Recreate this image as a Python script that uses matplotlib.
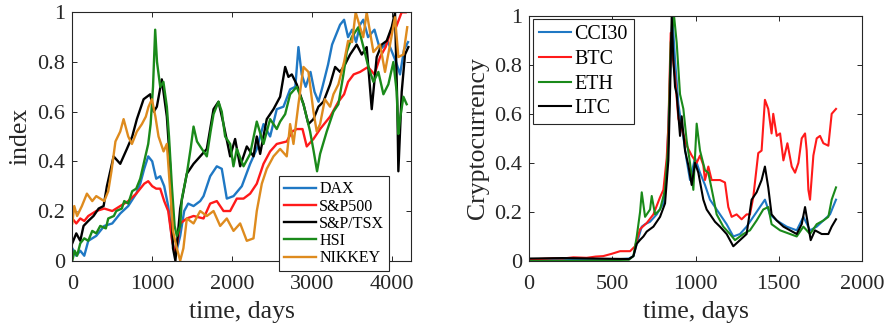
import matplotlib
matplotlib.use("Agg")
import matplotlib.pyplot as plt

plt.rcParams['font.family'] = ['Liberation Serif', 'DejaVu Serif']
plt.rcParams['mathtext.fontset'] = 'stix'

# ---------------- left panel: stock indices ----------------
dax_days = [0, 50, 100, 150, 200, 300, 400, 500, 600, 700, 800, 850, 900, 950, 1000, 1050, 1100,
            1150, 1200, 1250, 1290, 1350, 1400, 1450, 1517, 1600, 1642, 1725, 1808, 1870, 1933,
            2017, 2121, 2225, 2308, 2392, 2475, 2558, 2642, 2725, 2790, 2829, 2870, 2920, 2980,
            3030, 3080, 3130, 3200, 3250, 3300, 3350, 3400, 3450, 3500, 3550, 3600, 3640, 3700,
            3780, 3850, 3950, 4050, 4100, 4150, 4200]
dax_vals = [0.05, 0.02, 0.04, 0.02, 0.08, 0.10, 0.14, 0.15, 0.19, 0.22, 0.27, 0.31, 0.37, 0.42, 0.40,
            0.33, 0.34, 0.30, 0.22, 0.08, 0.02, 0.10, 0.20, 0.23, 0.22, 0.24, 0.26, 0.34, 0.38, 0.37,
            0.25, 0.26, 0.30, 0.39, 0.45, 0.55, 0.50, 0.61, 0.62, 0.69, 0.70, 0.86, 0.75, 0.70, 0.76,
            0.68, 0.64, 0.70, 0.79, 0.87, 0.91, 0.95, 0.97, 0.90, 0.93, 0.88, 0.95, 0.97, 0.90,
            0.93, 0.85, 0.88, 0.80, 0.75, 0.85, 0.88]

sp_days = [0, 50, 100, 150, 200, 300, 400, 500, 600, 700, 800, 900, 950, 1000, 1050, 1100, 1150,
           1200, 1250, 1290, 1350, 1433, 1517, 1642, 1725, 1808, 1892, 1975, 2058, 2142, 2225, 2308,
           2392, 2475, 2558, 2683, 2750, 2808, 2880, 2933, 3017, 3100, 3225, 3329, 3400, 3450,
           3520, 3600, 3700, 3780, 3850, 3920, 4000, 4050, 4120, 4170]
sp_vals = [0.17, 0.15, 0.17, 0.16, 0.18, 0.20, 0.21, 0.20, 0.22, 0.24, 0.27, 0.31, 0.32, 0.30, 0.29,
           0.29, 0.24, 0.20, 0.08, 0.02, 0.15, 0.17, 0.18, 0.17, 0.23, 0.24, 0.20, 0.20, 0.25, 0.25,
           0.27, 0.31, 0.39, 0.44, 0.47, 0.48, 0.52, 0.53, 0.53, 0.46, 0.49, 0.53, 0.58, 0.64, 0.67,
           0.72, 0.75, 0.76, 0.78, 0.75, 0.82, 0.86, 0.94, 0.94, 1.0, 1.0]

tsx_days = [0, 50, 100, 141, 200, 266, 330, 392, 433, 517, 600, 683, 750, 808, 892, 975, 1020, 1058,
            1120, 1183, 1225, 1260, 1290, 1350, 1433, 1517, 1600, 1683, 1767, 1829, 1892, 1975, 2037,
            2100, 2183, 2267, 2308, 2350, 2433, 2517, 2600, 2663, 2704, 2746, 2808, 2892, 2954, 3017,
            3079, 3142, 3225, 3288, 3350, 3412, 3475, 3558, 3621, 3683, 3746, 3808, 3871, 3933,
            3996, 4037, 4067, 4079, 4121, 4162, 4204]
tsx_vals = [0.07, 0.11, 0.08, 0.14, 0.16, 0.18, 0.21, 0.22, 0.30, 0.42, 0.39, 0.45, 0.50, 0.57, 0.65,
            0.67, 0.60, 0.62, 0.73, 0.58, 0.38, 0.05, 0.0, 0.21, 0.35, 0.39, 0.42, 0.45, 0.61, 0.64,
            0.55, 0.42, 0.49, 0.38, 0.46, 0.42, 0.50, 0.43, 0.57, 0.61, 0.66, 0.78, 0.74, 0.75, 0.71,
            0.63, 0.55, 0.57, 0.62, 0.64, 0.71, 0.78, 0.76, 0.79, 0.83, 0.87, 0.83, 0.86, 0.61, 0.82,
            0.87, 0.885, 0.94, 1.0, 0.61, 0.36, 0.68, 0.83, 0.86]

hsi_days = [0, 30, 60, 100, 150, 200, 250, 300, 350, 420, 450, 520, 550, 620, 650, 700, 750, 800,
            850, 900, 950, 980, 1010, 1037, 1060, 1080, 1100, 1140, 1183, 1210, 1246, 1280, 1308,
            1350, 1371, 1433, 1480, 1517, 1560, 1600, 1683, 1730, 1767, 1829, 1870, 1912, 1975, 2016,
            2058, 2142, 2225, 2308, 2392, 2475, 2558, 2600, 2663, 2725, 2808, 2892, 2975, 3020, 3062,
            3100, 3183, 3267, 3329, 3392, 3433, 3496, 3579, 3642, 3704, 3767, 3829, 3892, 3954,
            4017, 4058, 4079, 4100, 4142, 4183]
hsi_vals = [0.0, 0.04, 0.02, 0.07, 0.09, 0.08, 0.12, 0.11, 0.14, 0.13, 0.17, 0.18, 0.20, 0.21, 0.24,
            0.23, 0.28, 0.29, 0.33, 0.40, 0.47, 0.55, 0.70, 0.93, 0.80, 0.75, 0.70, 0.72, 0.62, 0.50,
            0.30, 0.14, 0.10, 0.14, 0.25, 0.35, 0.45, 0.54, 0.48, 0.46, 0.42, 0.52, 0.59, 0.64, 0.60,
            0.50, 0.47, 0.38, 0.45, 0.38, 0.43, 0.56, 0.47, 0.57, 0.53, 0.56, 0.59, 0.67, 0.70, 0.63,
            0.52, 0.44, 0.36, 0.43, 0.52, 0.60, 0.63, 0.75, 0.84, 0.90, 0.94, 0.86, 0.78, 0.72, 0.76,
            0.67, 0.71, 0.80, 0.68, 0.51, 0.57, 0.66, 0.63]

nik_days = [0, 25, 60, 120, 183, 250, 300, 400, 450, 490, 540, 600, 642, 700, 746, 808, 871, 920,
            954, 996, 1040, 1079, 1142, 1183, 1225, 1260, 1300, 1350, 1390, 1433, 1517, 1600, 1683,
            1767, 1850, 1933, 2017, 2100, 2183, 2267, 2308, 2371, 2433, 2517, 2600, 2683, 2725,
            2767, 2829, 2892, 2954, 3017, 3058, 3100, 3160, 3225, 3267, 3329, 3400, 3450, 3500,
            3545, 3600, 3640, 3683, 3767, 3850, 3912, 3975, 4037, 4079, 4142, 4190]
nik_vals = [0.15, 0.22, 0.18, 0.22, 0.27, 0.24, 0.26, 0.24, 0.28, 0.36, 0.48, 0.52, 0.57, 0.50, 0.47,
            0.52, 0.55, 0.58, 0.62, 0.65, 0.58, 0.50, 0.44, 0.47, 0.28, 0.12, 0.06, 0.0, 0.05, 0.17,
            0.15, 0.20, 0.18, 0.20, 0.14, 0.17, 0.12, 0.15, 0.08, 0.09, 0.20, 0.31, 0.37, 0.42, 0.45,
            0.42, 0.55, 0.47, 0.63, 0.78, 0.76, 0.60, 0.52, 0.55, 0.65, 0.62, 0.67, 0.71, 0.80, 0.885,
            0.88, 1.0, 0.94, 0.90, 1.0, 0.84, 0.87, 0.76, 0.87, 0.98, 0.82, 0.83, 0.94]

index_names = ['DAX', 'S&P500', 'S&P/TSX', 'HSI', 'NIKKEY']
index_colors = ['#1f78c4', '#ff1a1a', '#000000', '#1a8a1a', '#de8b1e']

# ---------------- right panel: cryptocurrencies ----------------
cci_days = [0, 300, 500, 600, 627, 647, 677, 697, 727, 767, 807, 827, 847, 861, 877, 897, 917, 947,
            967, 997, 1027, 1057, 1087, 1117, 1147, 1187, 1227, 1267, 1307, 1347, 1387, 1417, 1447,
            1488, 1548, 1608, 1648, 1688, 1728, 1768, 1808, 1844]
cci_vals = [0.003, 0.004, 0.006, 0.01, 0.02, 0.07, 0.14, 0.15, 0.16, 0.19, 0.235, 0.37, 0.75, 1.0,
            0.82, 0.64, 0.55, 0.41, 0.33, 0.42, 0.36, 0.31, 0.25, 0.22, 0.19, 0.15, 0.10, 0.11, 0.14,
            0.18, 0.22, 0.25, 0.19, 0.165, 0.14, 0.125, 0.18, 0.125, 0.14, 0.165, 0.19, 0.25]

btc_days = [0, 60, 146, 200, 266, 346, 400, 446, 500, 547, 607, 637, 667, 707, 747, 787, 807, 827,
            837, 851, 865, 877, 897, 917, 947, 977, 1007, 1027, 1047, 1057, 1077, 1097, 1147, 1177,
            1197, 1217, 1247, 1277, 1307, 1327, 1347, 1377, 1397, 1417, 1437, 1457, 1467, 1488, 1508,
            1528, 1552, 1578, 1598, 1618, 1638, 1658, 1668, 1678, 1688, 1708, 1728, 1748, 1768,
            1798, 1818, 1844]
btc_vals = [0.005, 0.008, 0.011, 0.01, 0.015, 0.013, 0.018, 0.02, 0.03, 0.04, 0.04, 0.06, 0.13, 0.155,
            0.19, 0.26, 0.29, 0.42, 0.55, 0.93, 0.82, 0.75, 0.58, 0.54, 0.47, 0.43, 0.40, 0.43, 0.39,
            0.33, 0.385, 0.33, 0.33, 0.32, 0.22, 0.18, 0.19, 0.17, 0.19, 0.19, 0.26, 0.44, 0.45, 0.657,
            0.62, 0.52, 0.60, 0.51, 0.52, 0.41, 0.48, 0.385, 0.36, 0.40, 0.50, 0.52, 0.45, 0.29, 0.25,
            0.43, 0.50, 0.51, 0.48, 0.47, 0.60, 0.62]

eth_days = [0, 300, 600, 627, 647, 667, 677, 697, 727, 737, 757, 787, 817, 837, 851, 871, 887, 907,
            927, 947, 967, 987, 1007, 1027, 1057, 1077, 1107, 1127, 1167, 1207, 1237, 1287, 1327,
            1367, 1407, 1437, 1457, 1508, 1568, 1608, 1648, 1688, 1728, 1768, 1798, 1818, 1844]
eth_vals = [0.0, 0.001, 0.005, 0.02, 0.10, 0.20, 0.28, 0.18, 0.21, 0.265, 0.19, 0.21, 0.29, 0.48, 0.89,
            1.0, 0.89, 0.68, 0.62, 0.49, 0.40, 0.29, 0.56, 0.45, 0.37, 0.36, 0.26, 0.19, 0.14, 0.11,
            0.085, 0.11, 0.125, 0.165, 0.21, 0.22, 0.15, 0.125, 0.11, 0.10, 0.14, 0.11, 0.15, 0.165,
            0.18, 0.25, 0.30]

ltc_days = [0, 200, 400, 600, 627, 647, 667, 687, 707, 747, 787, 817, 837, 847, 857, 867, 877, 887,
            907, 917, 937, 957, 977, 997, 1017, 1047, 1067, 1097, 1117, 1147, 1187, 1227, 1267, 1307,
            1337, 1367, 1397, 1417, 1437, 1457, 1488, 1528, 1568, 1608, 1638, 1658, 1678, 1692, 1718,
            1758, 1798, 1818, 1844]
ltc_vals = [0.01, 0.012, 0.01, 0.008, 0.02, 0.07, 0.086, 0.10, 0.12, 0.14, 0.18, 0.235, 0.41, 0.68, 1.0,
            0.82, 0.71, 0.68, 0.51, 0.59, 0.45, 0.39, 0.31, 0.40, 0.36, 0.25, 0.21, 0.18, 0.16, 0.14,
            0.11, 0.06, 0.085, 0.11, 0.25, 0.28, 0.33, 0.385, 0.30, 0.19, 0.165, 0.14, 0.125, 0.11,
            0.15, 0.22, 0.14, 0.085, 0.125, 0.11, 0.11, 0.14, 0.17]

crypto_names = ['CCI30', 'BTC', 'ETH', 'LTC']
crypto_colors = ['#1f78c4', '#ff1a1a', '#1a8a1a', '#000000']

yticks = [0, 0.2, 0.4, 0.6, 0.8, 1]
ytick_labels = ['0', '0.2', '0.4', '0.6', '0.8', '1']
left_xticks = [0, 1000, 2000, 3000, 4000]
right_xticks = [0, 500, 1000, 1500, 2000]

SERIF = ['Liberation Serif', 'DejaVu Serif']
fig = plt.figure(figsize=(8.89, 3.29), dpi=100)
axL = fig.add_axes([0.0813, 0.2076, 0.381, 0.755])
axR = fig.add_axes([0.5951, 0.2067, 0.3745, 0.7456])

edge = '#262626'
for ax in (axL, axR):
    for s in ax.spines.values():
        s.set_color(edge)
        s.set_linewidth(0.8)
    ax.tick_params(direction='in', top=True, right=True, length=3.5, width=0.7,
                   colors=edge, labelcolor='#262626', labelsize=16)
    ax.tick_params(axis='x', pad=10)
    ax.tick_params(axis='y', pad=5)
    ax.set_yticks(yticks)
    ax.set_yticklabels(ytick_labels, fontfamily=SERIF)
    ax.set_ylim(0, 1)

series_left = [(dax_days, dax_vals), (sp_days, sp_vals), (tsx_days, tsx_vals),
               (hsi_days, hsi_vals), (nik_days, nik_vals)]
for (d, v), name, c in zip(series_left, index_names, index_colors):
    axL.plot(d, v, color=c, lw=1.7, label=name)
axL.set_xlim(0, 4237)
axL.set_xticks(left_xticks)
axL.set_xticklabels([str(t) for t in left_xticks], fontfamily=SERIF)
axL.set_xlabel('time, days', fontsize=18.5, color='#262626', labelpad=5)
axL.set_ylabel('index', fontsize=18.5, color='#262626', labelpad=4)
legL = axL.legend(loc='lower left', bbox_to_anchor=(0.611, -0.042), borderaxespad=0,
                  prop={'family': SERIF, 'size': 11.5}, handlelength=2.0, handletextpad=0.2,
                  labelspacing=0.08, borderpad=0.3, fancybox=False, framealpha=1, edgecolor='#262626')
legL.get_frame().set_linewidth(0.8)

series_right = [(cci_days, cci_vals), (btc_days, btc_vals), (eth_days, eth_vals), (ltc_days, ltc_vals)]
for (d, v), name, c in zip(series_right, crypto_names, crypto_colors):
    axR.plot(d, v, color=c, lw=1.5, label=name)
axR.set_xlim(0, 2000)
axR.set_xticks(right_xticks)
axR.set_xticklabels([str(t) for t in right_xticks], fontfamily=SERIF)
axR.set_xlabel('time, days', fontsize=18.5, color='#262626', labelpad=5)
axR.set_ylabel('Cryptocurrency', fontsize=18.5, color='#262626', labelpad=4)
legR = axR.legend(loc='upper left', bbox_to_anchor=(0.013, 0.985), borderaxespad=0,
                  prop={'family': SERIF, 'size': 14.4}, handlelength=1.6, handletextpad=0.15,
                  labelspacing=0.28, borderpad=0.3, fancybox=False, framealpha=1, edgecolor='#262626')
legR.get_frame().set_linewidth(0.8)

fig.savefig('out.png', dpi=100)
